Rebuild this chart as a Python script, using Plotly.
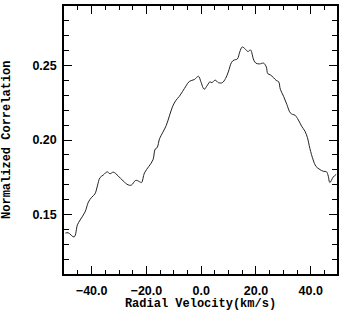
import plotly.graph_objects as go

velocity = [-49.6, -48.6, -46.4, -45.2, -44.2, -42.4, -41.2, -40.0, -38.8, -37.9, -37.0,
            -35.8, -34.3, -33.3, -32.1, -30.3, -28.5, -26.7, -25.5, -23.9, -22.5, -21.8,
            -20.7, -19.1, -17.6, -16.8, -16.1, -15.2, -14.0, -12.8, -11.6, -10.4, -9.2,
            -8.0, -6.8, -5.5, -4.3, -2.5, -1.0, -0.1, 1.1, 2.3, 3.2, 3.9, 5.1, 6.3, 7.7,
            8.9, 9.9, 11.1, 12.0, 13.2, 14.1, 15.0, 16.2, 17.1, 18.0, 19.2, 20.0, 21.3,
            22.8, 23.8, 24.3, 25.3, 26.4, 27.4, 28.3, 28.9, 30.1, 31.3, 32.5, 33.4, 34.3,
            35.5, 36.7, 37.9, 38.8, 39.7, 40.9, 41.9, 43.4, 44.6, 45.8, 46.4, 47.0, 48.2,
            49.3]
correlation = [0.1375, 0.1377, 0.1349, 0.1430, 0.1463, 0.1517, 0.1583, 0.1615, 0.1638,
               0.1692, 0.1746, 0.1764, 0.1786, 0.1773, 0.1784, 0.1758, 0.1725, 0.1699,
               0.1697, 0.1729, 0.1720, 0.1714, 0.1779, 0.1823, 0.1867, 0.1939, 0.1948,
               0.2009, 0.2052, 0.2096, 0.2162, 0.2227, 0.2267, 0.2293, 0.2326, 0.2364,
               0.2394, 0.2406, 0.2428, 0.2391, 0.2341, 0.2369, 0.2391, 0.2385, 0.2402,
               0.2385, 0.2385, 0.2413, 0.2457, 0.2522, 0.2537, 0.2544, 0.2592, 0.2625,
               0.2609, 0.2594, 0.2605, 0.2537, 0.2516, 0.2511, 0.2516, 0.2490, 0.2446,
               0.2437, 0.2419, 0.2400, 0.2391, 0.2341, 0.2293, 0.2238, 0.2183, 0.2172,
               0.2166, 0.2134, 0.2092, 0.2059, 0.2016, 0.1943, 0.1866, 0.1823, 0.1801,
               0.1790, 0.1786, 0.1758, 0.1714, 0.1751, 0.1769]

x_ticks = [-40, -20, 0, 20, 40]
y_ticks = [0.15, 0.20, 0.25]

fig = go.Figure()
fig.add_trace(go.Scatter(x=velocity, y=correlation, mode="lines",
                         line=dict(color="#222222", width=1), showlegend=False,
                         line_shape="spline"))

tickfont = dict(family="Liberation Sans", size=12.5, color="black", weight="bold")
titlefont = dict(family="Liberation Mono", size=12, color="black", weight="bold")

fig.update_layout(
    width=341, height=311,
    margin=dict(l=64, r=2, t=6, b=35),
    paper_bgcolor="white", plot_bgcolor="white",
    xaxis=dict(range=[-50.1, 49.6], tickvals=x_ticks, tickformat=".1f",
               ticks="inside", ticklen=8, tickwidth=1.2, tickcolor="black",
               minor=dict(dtick=5, tick0=0, ticks="inside", ticklen=4, tickwidth=1.2, tickcolor="black"),
               showline=True, linecolor="black", linewidth=1.5, mirror="allticks",
               showgrid=False, zeroline=False, tickfont=tickfont, ticklabelstandoff=4,
               title=dict(text="Radial Velocity(km/s)", font=titlefont, standoff=3)),
    yaxis=dict(range=[0.11, 0.29], tickvals=y_ticks, tickformat=".2f",
               ticks="inside", ticklen=8, tickwidth=1.2, tickcolor="black",
               minor=dict(dtick=0.01, tick0=0, ticks="inside", ticklen=5, tickwidth=1.2, tickcolor="black"),
               showline=True, linecolor="black", linewidth=1.5, mirror="allticks",
               showgrid=False, zeroline=False, tickfont=tickfont, ticklabelstandoff=3),
    annotations=[dict(text="Normalized Correlation", font=titlefont, textangle=-90,
                      xref="paper", yref="paper", x=-0.209, y=0.5,
                      xanchor="center", yanchor="middle", showarrow=False)],
)

fig.write_html("out.html", config={"displayModeBar": False},
               post_script="document.body.style.margin='0';document.body.style.overflow='hidden';")
